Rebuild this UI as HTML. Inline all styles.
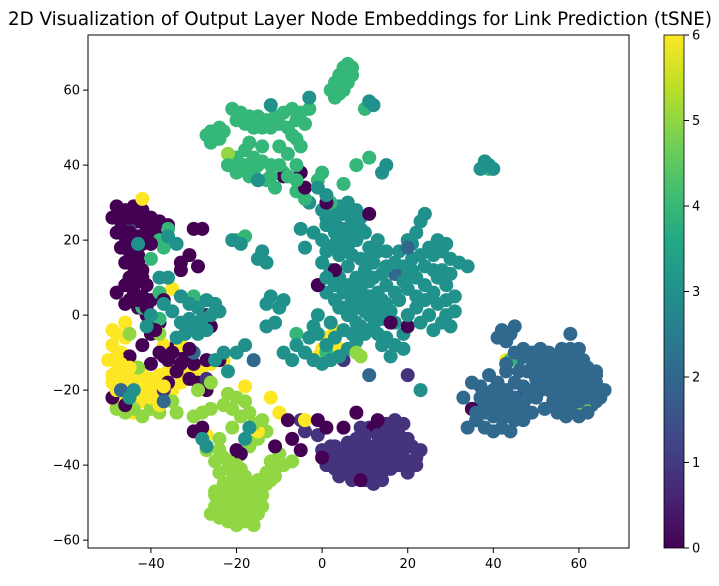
<!DOCTYPE html>
<html><head><meta charset="utf-8"><style>
body{margin:0;background:#fff;width:719px;height:586px;overflow:hidden;font-family:"DejaVu Sans","Liberation Sans",sans-serif}
svg{display:block}
</style></head><body>
<svg id="chart" width="719" height="586" font-family="DejaVu Sans, Liberation Sans, sans-serif">
<defs><linearGradient id="vir" x1="0" y1="1" x2="0" y2="0">
<stop offset="0" stop-color="#440154"/><stop offset="0.1" stop-color="#482475"/><stop offset="0.2" stop-color="#414487"/><stop offset="0.3" stop-color="#355f8d"/><stop offset="0.4" stop-color="#2a788e"/><stop offset="0.5" stop-color="#21918c"/><stop offset="0.6" stop-color="#22a884"/><stop offset="0.7" stop-color="#44bf70"/><stop offset="0.8" stop-color="#7ad151"/><stop offset="0.9" stop-color="#bddf26"/><stop offset="1" stop-color="#fde725"/></linearGradient></defs>
<text x="360" y="25" text-anchor="middle" font-size="18.3" fill="#000">2D Visualization of Output Layer Node Embeddings for Link Prediction (tSNE)</text>
<g id="points"></g>
<rect x="88" y="35" width="541" height="513" fill="none" stroke="#000" stroke-width="1"/>
<g id="xaxis"></g>
<g id="yaxis"></g>
<rect x="664" y="35" width="20" height="513" fill="url(#vir)" stroke="#000" stroke-width="0.8"/>
<g id="cbar"></g>
</svg>
<script>
const xTicks=[-40,-20,0,20,40,60];
const yTicks=[60,40,20,0,-20,-40,-60];
const cbarTicks=[0,1,2,3,4,5,6];
const classColors=["#440154","#46337e","#31688e","#21918c","#35b779","#90d743","#fde725"];
const class0=[[-48,29],[-46,28],[-44,29],[-42,28],[-40,26],[-38,25],[-36,24],[-49,26],[-47,25],[-45,24],[-43,25],[-41,23],[-39,22],[-48,22],[-46,21],[-44,20],[-42,19],[-47,18],[-45,17],[-43,16],[-46,14],[-44,13],[-42,12],[-45,10],[-43,9],[-41,8],[-44,6],[-42,5],[-40,4],[-48,6],[-46,3],[-43,2],[-41,0],[-38,-2],[-40,-5],[-42,-8],[-45,-11],[-38,-10],[-36,-12],[-34,-8],[-32,-11],[-30,-13],[-34,-15],[-31,-17],[-29,-18],[-27,-20],[-36,-18],[-44,-17],[-40,-13],[-33,14],[-31,16],[-30,23],[-28,23],[-33,12],[-49,-22],[-46,-24],[-27,-12],[-24,-12],[-26,-3],[-29,13],[-30,-31],[-28,-30],[-20,-36],[-19,-37],[-11,-35],[-8,-28],[-7,-33],[-5,-36],[0,-38],[1,-30],[-1,-28],[5,-30],[8,-26],[12,-30],[9,-44],[13,-28],[20,-3],[11,27],[-4,34],[-9,37],[-5,38],[1,30],[3,12],[16,-2],[-1,8],[35,-25],[-27,0],[-37,4],[-40,19],[-47,27],[-45,26],[-43,27],[-41,25],[-39,24],[-47,23],[-45,22],[-43,21],[-41,21],[-46,19],[-44,18],[-45,15],[-43,14],[-44,11],[-46,8],[-44,8],[-42,10],[-45,4],[-43,4],[-41,2],[-39,-4],[-37,-11],[-35,-10],[-33,-13],[-31,-9]];
const class1=[[0,-36],[2,-38],[4,-39],[6,-40],[8,-41],[10,-42],[12,-43],[14,-42],[16,-41],[18,-40],[20,-39],[22,-38],[3,-35],[5,-36],[7,-37],[9,-38],[11,-39],[13,-39],[15,-38],[17,-37],[19,-36],[21,-35],[6,-34],[8,-33],[10,-34],[12,-35],[14,-34],[16,-33],[18,-32],[13,-30],[15,-29],[17,-28],[19,-29],[11,-30],[9,-30],[-1,-32],[12,-45],[14,-44],[4,-43],[7,-44],[20,-42],[-4,-31],[-5,-28],[0,-12],[5,-12],[20,-16],[-27,-17],[-37,-20],[36,-28],[46,-22],[-45,23],[1,-40],[3,-41],[5,-42],[8,-43],[10,-44],[11,-41],[13,-41],[15,-40],[17,-39],[19,-38],[4,-37],[6,-38],[8,-39],[10,-40],[12,-37],[14,-36],[16,-35],[18,-34],[20,-33],[7,-35],[9,-36],[11,-36],[13,-32],[15,-31],[17,-31],[10,-32],[2,-35],[23,-36],[22,-40]];
const class2=[[42,-4],[44,-5],[43,-7],[41,-6],[45,-3],[47,-9],[49,-10],[51,-9],[53,-10],[55,-11],[57,-12],[59,-11],[61,-12],[50,-12],[52,-13],[54,-14],[56,-15],[58,-15],[60,-16],[62,-17],[64,-18],[66,-20],[65,-22],[63,-24],[61,-25],[59,-26],[57,-27],[55,-26],[53,-20],[55,-19],[57,-20],[59,-21],[61,-21],[63,-20],[48,-15],[50,-17],[52,-18],[46,-12],[58,-5],[56,-18],[54,-23],[60,-9],[62,-14],[64,-15],[35,-18],[37,-19],[39,-16],[41,-18],[43,-20],[45,-22],[47,-24],[49,-26],[47,-28],[45,-28],[43,-27],[41,-25],[39,-24],[37,-24],[35,-25],[36,-28],[38,-30],[40,-31],[42,-30],[44,-31],[39,-21],[42,-23],[45,-18],[50,-22],[52,-25],[34,-30],[33,-22],[-37,-23],[-30,-10],[11,-16],[20,18],[17,11],[-47,-20],[-16,-12],[48,-11],[50,-10],[52,-11],[54,-12],[56,-13],[58,-13],[60,-14],[62,-15],[64,-16],[49,-14],[51,-15],[53,-16],[55,-17],[57,-17],[59,-18],[61,-19],[63,-19],[65,-20],[54,-21],[56,-22],[58,-23],[60,-23],[62,-22],[64,-23],[56,-25],[58,-25],[60,-27],[62,-26],[46,-15],[47,-19],[49,-20],[51,-20],[40,-20],[42,-21],[44,-24],[46,-26],[44,-26],[40,-27],[38,-26],[42,-27],[36,-26],[48,-22],[43,-15],[41,-22],[37,-22],[45,-10],[43,-13],[58,-9],[56,-9]];
const class3=[[-3,30],[0,28],[2,27],[4,29],[6,30],[8,28],[7,25],[5,23],[3,22],[1,24],[9,26],[10,22],[8,20],[6,18],[4,16],[2,18],[0,20],[-2,22],[-4,18],[11,18],[13,20],[15,17],[12,14],[10,12],[8,10],[6,13],[4,10],[2,12],[0,14],[-1,8],[1,6],[3,4],[5,6],[7,4],[9,7],[11,9],[13,6],[15,8],[17,11],[19,13],[21,15],[18,17],[20,20],[22,22],[23,25],[24,27],[21,19],[25,18],[26,16],[28,17],[30,15],[32,14],[34,13],[27,20],[29,19],[24,13],[22,10],[20,7],[18,4],[16,1],[14,-1],[12,-3],[10,-5],[8,-7],[6,-9],[4,-11],[2,-12],[0,-13],[-2,-12],[-4,-10],[-6,-8],[-3,-6],[17,-2],[19,-5],[19,-9],[14,-8],[16,-11],[22,2],[24,4],[26,6],[27,3],[25,0],[28,-2],[26,-4],[30,-3],[29,0],[31,1],[27,10],[29,8],[-9,4],[-12,5],[-13,3],[-10,2],[-11,-2],[-13,-3],[-18,-8],[-20,-10],[-7,-12],[-9,-10],[-15,15],[-14,17],[-13,14],[-21,20],[-19,19],[-12,56],[12,56],[11,57],[14,38],[15,40],[39,40],[40,39],[37,39],[38,41],[-3,58],[-1,34],[1,32],[-5,23],[4,2],[6,0],[8,-2],[10,1],[12,3],[14,4],[-15,36],[-2,-3],[-1,0],[2,-2],[23,-20],[-33,5],[-31,3],[-29,2],[-27,4],[-25,3],[-24,1],[-26,0],[-28,-1],[-30,-3],[-32,-5],[-34,-6],[-33,-2],[-31,-1],[-29,-5],[-27,-4],[-35,1],[-37,3],[-40,0],[-41,-3],[-38,10],[-36,10],[-23,-10],[-25,-12],[-22,-15],[-43,19],[-36,21],[-34,19],[-28,-33],[-27,-35],[-18,-33],[-17,-30],[-45,-22],[-44,-20],[1,26],[3,25],[5,27],[7,22],[9,23],[5,20],[3,19],[1,17],[7,16],[9,15],[11,15],[13,17],[15,13],[17,14],[14,11],[12,10],[10,9],[6,8],[8,6],[3,8],[1,10],[5,2],[7,1],[9,3],[11,5],[13,1],[15,3],[17,6],[19,9],[21,12],[23,16],[20,10],[22,5],[24,8],[26,12],[28,12],[30,11],[31,5],[29,4],[3,-6],[5,-4],[7,-5],[9,-3],[11,0],[13,-5],[15,-6],[17,-8],[1,-8],[-1,-5],[20,0],[23,-2]];
const class4=[[3,58],[4,61],[5,63],[6,65],[7,66],[5,66],[3,62],[4,59],[6,62],[7,64],[2,60],[-21,55],[-19,54],[-17,53],[-15,53],[-13,52],[-11,53],[-9,54],[-7,55],[-5,54],[-3,55],[-4,51],[-8,50],[-6,47],[-27,48],[-25,49],[-23,49],[-26,46],[-24,47],[-20,42],[-19,39],[-17,37],[-15,36],[-13,36],[-11,34],[-12,40],[-10,45],[-8,43],[-14,45],[-9,38],[-6,33],[-4,31],[-7,48],[-5,45],[-17,46],[-15,40],[0,38],[-1,36],[2,30],[5,35],[8,40],[11,42],[10,55],[38,40],[39,39],[-18,21],[-20,20],[-38,20],[-37,18],[-36,23],[-40,15],[-30,5],[-42,2],[-38,6],[1,-10],[-6,-5],[-38,-1],[44,-12],[-20,52],[-18,51],[-16,50],[-14,50],[-12,50],[-10,51],[-6,52],[-18,44],[-16,42],[-14,41],[-18,40],[-16,38],[-12,37],[-10,40],[-8,37],[-6,40],[-6,36],[-20,38],[-22,40],[-26,49],[-24,50],[4,64],[6,67],[3,60],[5,60]];
const class5=[[-25,-48],[-23,-49],[-21,-50],[-19,-51],[-17,-52],[-15,-53],[-24,-51],[-22,-52],[-20,-53],[-18,-55],[-16,-56],[-26,-53],[-24,-54],[-22,-55],[-20,-56],[-25,-47],[-22,-46],[-20,-47],[-18,-48],[-16,-49],[-14,-48],[-17,-45],[-15,-44],[-13,-42],[-11,-41],[-9,-40],[-7,-39],[-12,-39],[-10,-37],[-14,-44],[-21,-44],[-23,-38],[-25,-39],[-27,-36],[-21,-39],[-19,-41],[-17,-35],[-15,-33],[-13,-31],[-17,-26],[-19,-27],[-21,-25],[-23,-24],[-22,-21],[-20,-22],[-18,-23],[-16,-29],[-14,-28],[-26,-25],[-28,-26],[-30,-27],[-24,-33],[-48,-25],[-46,-26],[-44,-25],[-42,-27],[-38,-26],[-40,-25],[-35,-23],[-34,-26],[-45,-5],[-38,-5],[-43,-14],[-22,43],[-21,-30],[8,-10],[9,-11],[60,-24],[62,-23],[-29,-20],[-26,-18],[-24,-49],[-22,-48],[-20,-49],[-18,-50],[-16,-52],[-14,-51],[-23,-53],[-21,-54],[-19,-54],[-17,-54],[-25,-51],[-21,-52],[-17,-49],[-15,-47],[-13,-45],[-11,-43],[-19,-45],[-23,-45],[-21,-47],[-20,-42],[-22,-41],[-24,-42],[-18,-43],[-12,-44],[-15,-50],[-24,-36],[-20,-40]];
const class6=[[-48,-5],[-46,-6],[-49,-8],[-47,-10],[-45,-12],[-50,-12],[-48,-15],[-46,-16],[-44,-15],[-42,-16],[-40,-17],[-38,-16],[-36,-15],[-34,-14],[-32,-16],[-49,-18],[-47,-19],[-45,-20],[-43,-19],[-41,-20],[-39,-21],[-37,-22],[-35,-20],[-33,-18],[-46,-22],[-44,-23],[-42,-23],[-40,-24],[-48,-24],[-44,-26],[-30,-15],[-28,-14],[-26,-13],[-32,-12],[-37,-8],[-35,7],[-42,31],[-23,-12],[-12,-22],[-10,-26],[-15,-31],[1,-6],[2,-8],[3,-4],[4,-9],[0,-9],[-1,-11],[-4,-28],[-27,-32],[-18,-19],[43,-12],[-33,-8],[-46,-2],[-49,-16],[-47,-17],[-45,-17],[-43,-17],[-41,-18],[-39,-18],[-37,-19],[-48,-20],[-46,-20],[-44,-21],[-42,-21],[-40,-22],[-38,-24],[-47,-13],[-45,-14],[-48,-11],[-49,-4]];
const allClasses=[class0,class1,class2,class3,class4,class5,class6];

const NS="http://www.w3.org/2000/svg";
const X0=88,X1=629,Y0=35,Y1=548;
const xMin=-54.7,xMax=71.7,yMin=-62.1,yMax=74.7;
function sx(v){return X0+(v-xMin)/(xMax-xMin)*(X1-X0);}
function sy(v){return Y1-(v-yMin)/(yMax-yMin)*(Y1-Y0);}
function cy(v){return 548-(v-0)/6*513;}

const gp=document.getElementById('points');
let maxLen=Math.max(...allClasses.map(a=>a.length));
for(let i=0;i<maxLen;i++){
  for(let c=0;c<allClasses.length;c++){
    const p=allClasses[c][i]; if(!p) continue;
    const el=document.createElementNS(NS,'circle');
    el.setAttribute('cx',sx(p[0]));el.setAttribute('cy',sy(p[1]));el.setAttribute('r',7);
    el.setAttribute('fill',classColors[c]);
    
    
    gp.appendChild(el);
  }
}
const gx=document.getElementById('xaxis');
xTicks.forEach(t=>{
  const x=sx(t);
  const l=document.createElementNS(NS,'line');
  l.setAttribute('x1',x);l.setAttribute('x2',x);l.setAttribute('y1',548);l.setAttribute('y2',553);l.setAttribute('stroke','#000');
  
  
  gx.appendChild(l);
  const tx=document.createElementNS(NS,'text');
  tx.setAttribute('x',x);tx.setAttribute('y',568);tx.setAttribute('text-anchor','middle');tx.setAttribute('font-size','13');
  tx.textContent=t<0?'\u2212'+Math.abs(t):t;
  
  
  gx.appendChild(tx);
});
const gy=document.getElementById('yaxis');
yTicks.forEach(t=>{
  const y=sy(t);
  const l=document.createElementNS(NS,'line');
  l.setAttribute('x1',83);l.setAttribute('x2',88);l.setAttribute('y1',y);l.setAttribute('y2',y);l.setAttribute('stroke','#000');
  
  
  gy.appendChild(l);
  const tx=document.createElementNS(NS,'text');
  tx.setAttribute('x',80);tx.setAttribute('y',y+4.5);tx.setAttribute('text-anchor','end');tx.setAttribute('font-size','13');
  tx.textContent=t<0?'\u2212'+Math.abs(t):t;
  
  
  gy.appendChild(tx);
});
const gc=document.getElementById('cbar');
cbarTicks.forEach(t=>{
  const y=cy(t);
  const l=document.createElementNS(NS,'line');
  l.setAttribute('x1',684);l.setAttribute('x2',689);l.setAttribute('y1',y);l.setAttribute('y2',y);l.setAttribute('stroke','#000');
  
  
  gc.appendChild(l);
  const tx=document.createElementNS(NS,'text');
  tx.setAttribute('x',692);tx.setAttribute('y',y+4.5);tx.setAttribute('font-size','13');
  tx.textContent=t;
  
  
  gc.appendChild(tx);
});
</script>
</body></html>
